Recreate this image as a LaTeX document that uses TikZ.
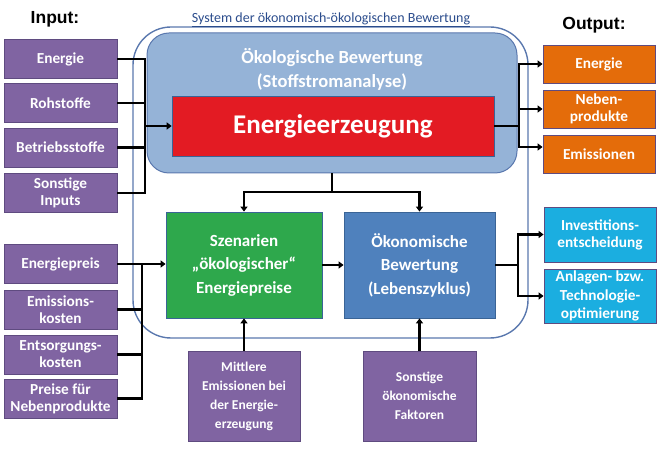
\documentclass[tikz,border=0pt]{standalone}
\usepackage{fontspec}
\setmainfont{Carlito}
\newfontfamily\hdrfont{Liberation Sans}
\usetikzlibrary{arrows.meta}
\definecolor{purp}{HTML}{8064A2}
\definecolor{purpd}{HTML}{5F4B80}
\definecolor{orng}{HTML}{E46C0A}
\definecolor{cyn}{HTML}{1BAEE0}
\definecolor{grn}{HTML}{2EA84C}
\definecolor{blu}{HTML}{4F81BD}
\definecolor{bluD}{HTML}{3A6496}
\definecolor{redb}{HTML}{E31B23}
\definecolor{lblu}{HTML}{95B3D7}
\definecolor{outl}{HTML}{5A78AE}
\definecolor{ttl}{HTML}{2B4C8C}
\tikzset{
  box/.style={draw=purpd, line width=0.8pt, text=white, align=center, inner sep=1pt,
    font=\bfseries\fontsize{15.3}{17}\selectfont},
  inbox/.style={box, fill=purp, minimum width=113pt, minimum height=39pt},
  outbox/.style={box, fill=orng, minimum width=112pt, minimum height=38pt},
  cybox/.style={box, fill=cyn, minimum width=112pt, minimum height=55pt},
  pbox/.style={box, fill=purp, minimum width=112pt, minimum height=90pt,
    font=\bfseries\fontsize{13.5}{19}\selectfont},
  bigbox/.style={draw=bluD, line width=0.8pt, text=white, align=center,
    font=\bfseries\fontsize{17}{23.5}\selectfont, minimum height=106pt},
  conn/.style={line width=2.2pt, black},
  arr/.style={conn, -{Triangle[width=7pt,length=5pt]}},
  hdr/.style={font=\hdrfont\bfseries\fontsize{17.5}{20}\selectfont}
}
\begin{document}
\begin{tikzpicture}[x=1pt,y=-1pt]
\useasboundingbox (0,0) rectangle (665,457);
% outer system frame
\draw[outl, line width=1.4pt, rounded corners=38pt] (133,27) rectangle (528,338);
\node[font=\fontsize{14}{15}\selectfont, text=ttl] (title) at (331,20) {\underline{System der ökonomisch-ökologischen Bewertung}};
\node[hdr] (inlbl) at (55,19) {Input:};
\node[hdr] (outlbl) at (594,25) {Output:};
% inner ecological box
\node[draw=outl, line width=1pt, fill=lblu, rounded corners=22pt, minimum width=370pt, minimum height=140pt] (oeko) at (332,103) {};
\node[text=white, align=center, font=\bfseries\fontsize{18.5}{24}\selectfont] (oekotxt) at (332,69) {Ökologische Bewertung\\(Stoffstromanalyse)};
\node[draw=bluD, line width=0.6pt, fill=redb, text=white, font=\bfseries\fontsize{27}{30}\selectfont, minimum width=322pt, minimum height=60pt] (red) at (333,126) {Energieerzeugung};
% input boxes top
\node[inbox] (i1) at (60.5,59) {Energie};
\node[inbox] (i2) at (60.5,103) {Rohstoffe};
\node[inbox] (i3) at (60.5,147.5) {Betriebsstoffe};
\node[inbox] (i4) at (60.5,193) {Sonstige\\Inputs};
% output boxes
\node[outbox] (o1) at (599,64) {Energie};
\node[outbox] (o2) at (599,109) {Neben-\\produkte};
\node[outbox] (o3) at (599,154) {Emissionen};
% middle boxes
\node[bigbox, fill=grn, minimum width=156pt] (gr) at (244,265) {Szenarien\\„ökologischer“\\Energiepreise};
\node[bigbox, fill=blu, minimum width=151pt] (bl) at (419.5,265) {Ökonomische\\Bewertung\\(Lebenszyklus)};
% cyan outputs
\node[cybox] (c1) at (600,234.5) {Investitions-\\entscheidung};
\node[cybox, minimum height=54pt, font=\bfseries\fontsize{15.3}{18.5}\selectfont] (c2) at (600,296) {Anlagen- bzw.\\Technologie-\\optimierung};
% bottom left inputs
\node[inbox] (p1) at (60.5,264) {Energiepreis};
\node[inbox] (p2) at (60.5,309.5) {Emissions-\\kosten};
\node[inbox] (p3) at (60.5,354.5) {Entsorgungs-\\kosten};
\node[inbox] (p4) at (60.5,398.5) {Preise für\\Nebenprodukte};
% bottom boxes
\node[pbox] (m1) at (244,396) {Mittlere\\Emissionen bei\\der Energie-\\erzeugung};
\node[pbox, minimum width=113pt] (m2) at (419.5,396) {Sonstige\\ökonomische\\Faktoren};
% connectors: top inputs
\coordinate (jin) at (145,126);
\draw[conn] (i1.east) -| (jin);
\draw[conn] (i2.east) -| (jin);
\draw[conn] (i3.east) -| (jin);
\draw[conn] (i4.east) -| (jin);
\draw[arr] (jin) -- (red.west);
% outputs
\coordinate (jout) at (519,126);
\draw[conn] (red.east) -- (jout);
\draw[arr] (jout) |- (o1.west);
\draw[arr] (jout) |- (o2.west);
\draw[arr] (jout) |- ([yshift=7pt]o3.west);
% down from ecological box
\coordinate (jdown) at (332,192);
\draw[conn] (oeko.south -| jdown) -- (jdown);
\draw[arr] (jdown) -| (gr.north);
\draw[arr] (jdown) -| (bl.north);
\draw[arr] (gr.east) -- (bl.west);
% to cyan
\coordinate (jc) at (518,265);
\draw[conn] (bl.east) -- (jc);
\draw[arr] (jc) |- (c1.west);
\draw[arr] (jc) |- (c2.west);
% bottom left inputs
\coordinate (jp) at (142,264);
\draw[arr] (p1.east) -- (gr.west |- p1.east);
\draw[conn] (p2.east) -| (jp);
\draw[conn] (p3.east) -| (jp);
\draw[conn] (p4.east) -| (jp);
% bottom up
\draw[arr] (m1.north) -- (gr.south);
\draw[arr] (m2.north) -- (bl.south);
\end{tikzpicture}
\end{document}
